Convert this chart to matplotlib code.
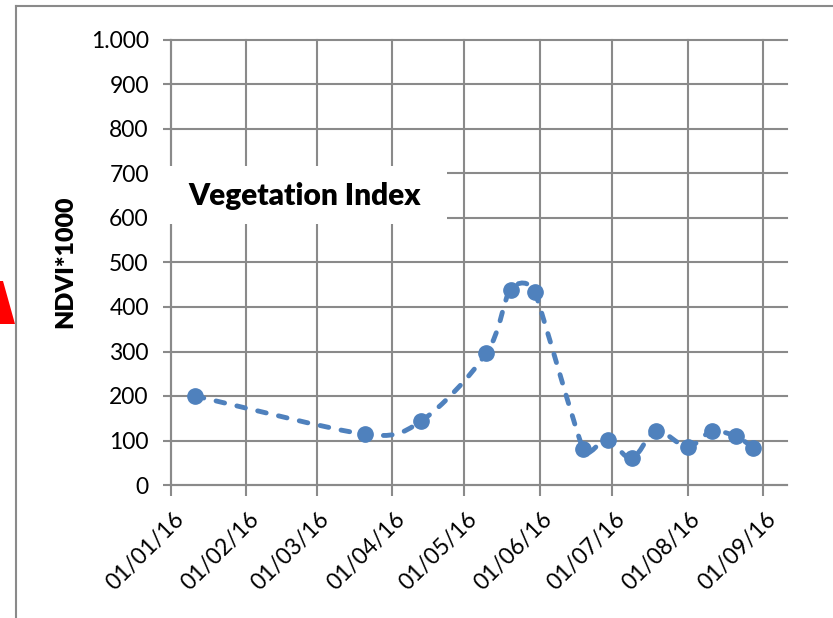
import numpy as np
import matplotlib
matplotlib.use("Agg")
import matplotlib.pyplot as plt
import matplotlib.dates as mdates
import matplotlib.transforms as mtransforms
from matplotlib.path import Path
from matplotlib.patches import PathPatch, Rectangle, Polygon
from matplotlib.lines import Line2D
from matplotlib.ticker import FuncFormatter, MultipleLocator

# data
dates = ["2016-01-11", "2016-03-21", "2016-04-13", "2016-05-10", "2016-05-20",
         "2016-05-30", "2016-06-19", "2016-06-29", "2016-07-09", "2016-07-19",
         "2016-08-01", "2016-08-11", "2016-08-21", "2016-08-28"]
ndvi = [200, 114, 143, 296, 439, 434, 80, 102, 60, 121, 86, 121, 109, 84]
month_ticks = ["2016-01-01", "2016-02-01", "2016-03-01", "2016-04-01", "2016-05-01",
               "2016-06-01", "2016-07-01", "2016-08-01", "2016-09-01"]
x_start, x_end = "2016-01-01", "2016-09-11"
title = "Vegetation Index"
y_label = "NDVI*1000"

BLUE = "#4F81BD"
GRID = "#8A8A8A"
W, H = 833, 618

plt.rcParams["font.family"] = ["Lato", "DejaVu Sans"]


def fx(px):
    return px / W


def fy(py):
    return 1 - py / H


def smooth_path(ax, x, y):
    # Excel-like smoothed line: cubic Bezier through the points,
    # tangents limited so the curve does not overshoot short segments
    pts = ax.transData.transform(np.column_stack([x, y]))
    n = len(pts)

    def tangent(i):
        p0 = pts[max(i - 1, 0)]
        p2 = pts[min(i + 1, n - 1)]
        span = p2 - p0
        d = np.hypot(*span)
        if d == 0:
            return span * 0
        dprev = np.hypot(*(pts[i] - p0)) if i > 0 else np.inf
        dnext = np.hypot(*(p2 - pts[i])) if i < n - 1 else np.inf
        f = min(1 / 6, 0.5 * min(dprev, dnext) / d)
        return span * f

    verts = [pts[0]]
    codes = [Path.MOVETO]
    for i in range(n - 1):
        verts += [pts[i] + tangent(i), pts[i + 1] - tangent(i + 1), pts[i + 1]]
        codes += [Path.CURVE4] * 3
    verts = ax.transData.inverted().transform(np.array(verts))
    return Path(verts, codes)


fig = plt.figure(figsize=(W / 100, H / 100), dpi=100)
ax = fig.add_axes([fx(171), fy(485), fx(787 - 171), (485 - 40) / H])

x = mdates.datestr2num(dates)
ax.set_xlim(mdates.datestr2num(x_start), mdates.datestr2num(x_end))
ax.set_ylim(0, 1000)
ax.xaxis_date()

path = smooth_path(ax, x, ndvi)
ax.add_patch(PathPatch(path, fill=False, edgecolor=BLUE, linewidth=3.5,
                       linestyle=(0, (1.8, 2.6)), capstyle="round", zorder=3))
ax.plot(x, ndvi, "o", color=BLUE, markersize=11, zorder=4, clip_on=False)

ax.set_xticks(mdates.datestr2num(month_ticks))
ax.xaxis.set_major_formatter(mdates.DateFormatter("%d/%m/%y"))
ax.yaxis.set_major_locator(MultipleLocator(100))
ax.yaxis.set_major_formatter(FuncFormatter(lambda v, p: f"{v:,.0f}".replace(",", ".")))

ax.grid(True, color=GRID, linewidth=1.5)
ax.set_axisbelow(True)
for gl in ax.get_xgridlines() + ax.get_ygridlines():
    gl.set_clip_on(False)

for s in ["top", "right"]:
    ax.spines[s].set_visible(False)
for s in ["left", "bottom"]:
    ax.spines[s].set_color(GRID)
    ax.spines[s].set_linewidth(1.5)

ax.tick_params(axis="y", direction="out", length=6, width=1.5, color=GRID,
               pad=10, labelsize=16.5)
ax.tick_params(axis="x", direction="out", length=8, width=1.5, color=GRID,
               pad=14, labelsize=16.5)

offset = mtransforms.ScaledTranslation(7 / 72, 0, fig.dpi_scale_trans)
for lab in ax.get_xticklabels():
    lab.set_rotation(45)
    lab.set_ha("right")
    lab.set_va("center")
    lab.set_rotation_mode("anchor")
    lab.set_transform(lab.get_transform() + offset)

fig.text(fx(65), fy(262), y_label, rotation=90, ha="center", va="center",
         fontsize=18, fontweight="heavy")

# title box sitting over the grid
fig.patches.append(Rectangle((fx(163), fy(224)), fx(447 - 163), (224 - 166) / H,
                             transform=fig.transFigure, facecolor="white",
                             edgecolor="none", zorder=5))
fig.text(fx(305), fy(196), title, ha="center", va="center", fontsize=21.5,
         fontweight="heavy", zorder=6)

# outer frame and red marker at the left edge
fig.add_artist(Line2D([fx(16), fx(16)], [0, fy(6)], transform=fig.transFigure,
                      color=GRID, linewidth=1.5))
fig.add_artist(Line2D([fx(16), 1], [fy(6), fy(6)], transform=fig.transFigure,
                      color=GRID, linewidth=1.5))
fig.patches.append(Polygon([(0, fy(281)), (fx(3), fy(281)), (fx(15), fy(324)), (0, fy(324))],
                           closed=True, transform=fig.transFigure,
                           facecolor="red", edgecolor="none"))

fig.savefig("out.png", dpi=100)
